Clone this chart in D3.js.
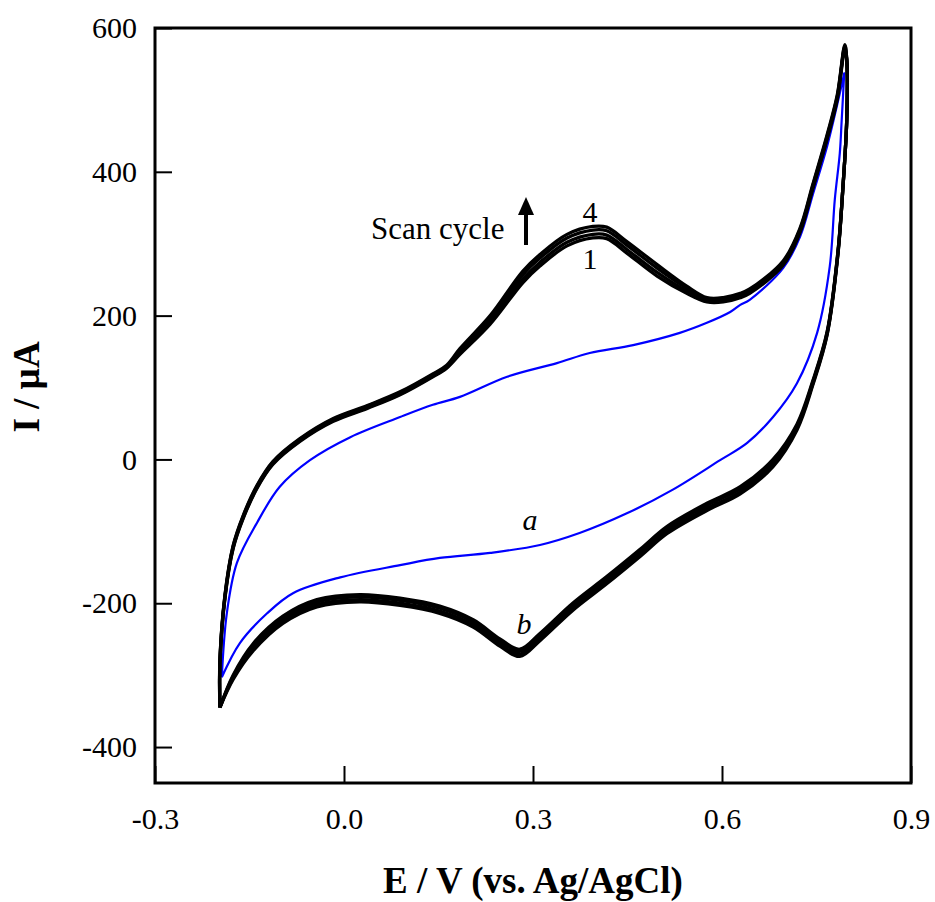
<!DOCTYPE html>
<html>
<head>
<meta charset="utf-8">
<script src="https://cdn.jsdelivr.net/npm/d3@7"></script>
<style>
  body { margin: 0; background: #fff; }
  text { font-family: "Liberation Serif", "Times New Roman", serif; fill: #000; }
</style>
</head>
<body>
<div id="chart"></div>
<script>
// cyclic voltammograms: curve a (blue, one cycle) and curve b (black, 4 scan cycles)
const xTicks = [-0.3, 0.0, 0.3, 0.6, 0.9];
const yTicks = [-400, -200, 0, 200, 400, 600];

// curve a, forward (anodic) sweep
const aFwdE = [-0.194, -0.186, -0.170, -0.138, -0.102, -0.054, 0.010, 0.089, 0.141, 0.184, 0.259, 0.338, 0.390, 0.459, 0.533, 0.576, 0.613, 0.629, 0.644, 0.697, 0.724, 0.744, 0.767, 0.783, 0.794];
const aFwdI = [-303, -214, -144, -88, -38, -1, 31, 59, 76, 87, 115, 134, 148, 159, 176, 190, 205, 215, 222, 266, 310, 368, 436, 494, 537];
// curve a, reverse (cathodic) sweep
const aRevE = [0.794, 0.790, 0.787, 0.779, 0.771, 0.751, 0.719, 0.681, 0.640, 0.597, 0.522, 0.449, 0.375, 0.311, 0.232, 0.152, 0.089, -0.006, -0.081, -0.122, -0.165, -0.194];
const aRevI = [537, 472, 426, 361, 268, 176, 106, 59, 23, -1, -42, -75, -102, -119, -130, -137, -147, -164, -186, -214, -255, -303];

// curve b, forward sweep potentials and currents of cycles 1-4
const bFwdE = [-0.197, -0.197, -0.189, -0.176, -0.160, -0.138, -0.113, -0.070, -0.017, 0.037, 0.089, 0.141, 0.163, 0.184, 0.232, 0.284, 0.311, 0.354, 0.395, 0.417, 0.449, 0.497, 0.544, 0.576, 0.602, 0.629, 0.644, 0.697, 0.724, 0.744, 0.767, 0.783, 0.795];
const bFwd1 = [-345, -285, -193, -124, -82, -40, -7, 25, 53, 71, 90, 115, 127, 146, 188, 246, 269, 297, 308, 307, 287, 255, 231, 219, 219, 225, 231, 270, 316, 376, 446, 501, 571];
const bFwd2 = [-345, -284, -192, -123, -81, -39, -6, 26, 54, 72, 91, 116, 128, 149, 192, 251, 274, 302, 313, 312, 292, 260, 234, 221, 221, 227, 233, 272, 318, 378, 448, 503, 573];
const bFwd3 = [-345, -282, -190, -121, -79, -37, -4, 28, 56, 74, 93, 118, 130, 151, 196, 257, 280, 308, 319, 318, 298, 266, 238, 223, 223, 229, 235, 274, 320, 380, 450, 505, 575];
const bFwd4 = [-345, -281, -189, -120, -78, -36, -3, 29, 57, 75, 94, 119, 131, 154, 200, 262, 285, 313, 324, 323, 303, 271, 241, 225, 225, 231, 237, 276, 322, 382, 452, 507, 577];

// curve b, reverse sweep
const bRevE = [0.798, 0.798, 0.792, 0.784, 0.767, 0.744, 0.719, 0.681, 0.629, 0.576, 0.513, 0.470, 0.417, 0.363, 0.311, 0.279, 0.248, 0.205, 0.152, 0.089, 0.025, -0.043, -0.097, -0.144, -0.176, -0.197];
const bRev1 = [556, 472, 379, 289, 178, 109, 49, 0, -38, -61, -93, -125, -163, -200, -242, -264, -250, -223, -204, -193, -188, -195, -218, -256, -300, -345];
const bRev2 = [556, 472, 379, 288, 177, 107, 46, -3, -41, -64, -96, -128, -166, -203, -245, -267, -253, -226, -207, -196, -191, -198, -221, -259, -302, -345];
const bRev3 = [556, 472, 379, 286, 175, 105, 44, -7, -45, -68, -100, -132, -170, -207, -249, -271, -257, -230, -211, -200, -195, -202, -225, -263, -304, -345];
const bRev4 = [556, 472, 379, 285, 174, 103, 41, -10, -48, -71, -103, -135, -173, -210, -252, -274, -260, -233, -214, -203, -198, -205, -228, -266, -306, -345];

const width = 935, height = 902;
const plotLeft = 155, plotRight = 911, plotTop = 28, plotBottom = 783;

const svg = d3.select("#chart")
  .append("svg")
  .attr("width", width)
  .attr("height", height);

svg.append("rect").attr("width", width).attr("height", height).attr("fill", "#fff");

const x = d3.scaleLinear().domain([-0.3, 0.9]).range([plotLeft, plotRight]);
const y = d3.scaleLinear().domain([-450, 600]).range([plotBottom, plotTop]);

const line = d3.line()
  .x(d => x(d[0]))
  .y(d => y(d[1]))
  .curve(d3.curveCatmullRom.alpha(0.5));

const zip = (es, is) => es.map((e, i) => [e, is[i]]);

// curve a
svg.append("path")
  .attr("d", line(zip(aFwdE, aFwdI).concat(zip(aRevE, aRevI))))
  .attr("fill", "none")
  .attr("stroke", "#0000ff")
  .attr("stroke-width", 2.2)
  .attr("stroke-linejoin", "round");

// curve b, four cycles
const fwd = [bFwd1, bFwd2, bFwd3, bFwd4];
const rev = [bRev1, bRev2, bRev3, bRev4];
fwd.forEach((f, k) => {
  svg.append("path")
    .attr("d", line(zip(bFwdE, f).concat(zip(bRevE, rev[k]))))
    .attr("fill", "none")
    .attr("stroke", "#000")
    .attr("stroke-width", 3.3)
    .attr("stroke-linejoin", "round");
});

// axes with inward ticks (plain hyphen for negatives, as in the original)
const xAxis = svg.append("g")
  .attr("transform", `translate(0,${plotBottom})`)
  .call(d3.axisBottom(x).tickValues(xTicks).tickSize(-17).tickPadding(25).tickFormat(d => d.toFixed(1)));
const yAxis = svg.append("g")
  .attr("transform", `translate(${plotLeft},0)`)
  .call(d3.axisLeft(y).tickValues(yTicks).tickSize(-17).tickPadding(18).tickFormat(d => String(d)));

[xAxis, yAxis].forEach(g => {
  g.select(".domain").remove();
  g.selectAll(".tick line").attr("stroke", "#000").attr("stroke-width", 2);
  g.selectAll(".tick text")
    .attr("font-family", "Liberation Serif, Times New Roman, serif")
    .attr("font-size", 30)
    .attr("fill", "#000");
});

svg.append("rect")
  .attr("x", plotLeft).attr("y", plotTop)
  .attr("width", plotRight - plotLeft).attr("height", plotBottom - plotTop)
  .attr("fill", "none")
  .attr("stroke", "#000")
  .attr("stroke-width", 3);

// axis titles
svg.append("text")
  .attr("x", (plotLeft + plotRight) / 2).attr("y", 893)
  .attr("text-anchor", "middle")
  .attr("font-size", 37).attr("font-weight", "bold")
  .text("E / V (vs. Ag/AgCl)");

svg.append("text")
  .attr("transform", "translate(39,387) rotate(-90)")
  .attr("text-anchor", "middle")
  .attr("font-size", 37).attr("font-weight", "bold")
  .text("I / µA");

// annotations
svg.append("text").attr("x", 371).attr("y", 239).attr("font-size", 31).text("Scan cycle");
svg.append("line")
  .attr("x1", 526).attr("x2", 526).attr("y1", 245).attr("y2", 212)
  .attr("stroke", "#000").attr("stroke-width", 4);
svg.append("path")
  .attr("d", "M526,197 L518,215 L534,215 Z")
  .attr("fill", "#000");
svg.append("text").attr("x", 590).attr("y", 222).attr("text-anchor", "middle").attr("font-size", 30).text("4");
svg.append("text").attr("x", 590).attr("y", 269).attr("text-anchor", "middle").attr("font-size", 30).text("1");
svg.append("text").attr("x", 530).attr("y", 530).attr("text-anchor", "middle").attr("font-size", 30).attr("font-style", "italic").text("a");
svg.append("text").attr("x", 524).attr("y", 634).attr("text-anchor", "middle").attr("font-size", 30).attr("font-style", "italic").text("b");
</script>
</body>
</html>
